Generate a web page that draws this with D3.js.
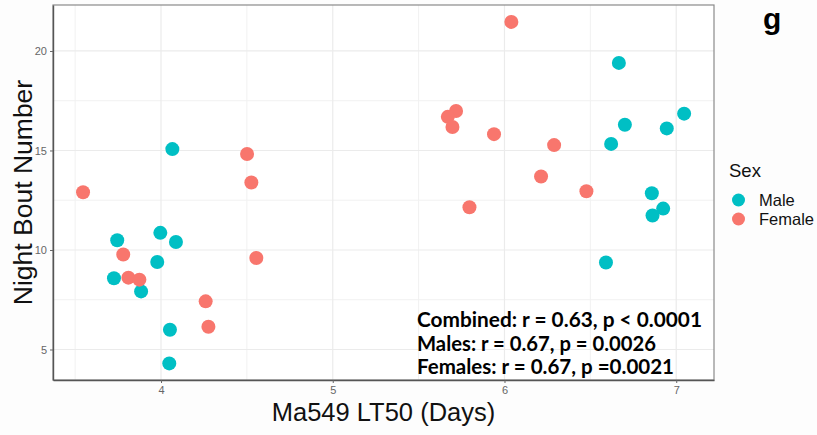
<!DOCTYPE html>
<html>
<head>
<meta charset="utf-8">
<script src="https://cdn.jsdelivr.net/npm/d3@7"></script>
<style>
  html, body { margin: 0; padding: 0; background: #fdfdfd; }
  svg { display: block; }
</style>
</head>
<body>
<svg id="chart" width="817" height="435"></svg>
<script>
// Night bout number vs. Ma549 LT50, by sex
const maleLT50 = [4.066, 3.745, 3.996, 4.087, 3.978, 3.726, 3.884, 4.052, 4.048,
                  6.666, 7.046, 6.701, 6.945, 6.621, 6.858, 6.924, 6.862, 6.591];
const maleBouts = [15.07, 10.49, 10.86, 10.40, 9.40, 8.58, 7.92, 5.99, 4.30,
                   19.40, 16.85, 16.29, 16.11, 15.33, 12.85, 12.08, 11.73, 9.37];
const femaleLT50 = [3.546, 4.501, 4.526, 3.780, 3.810, 3.874, 4.260, 4.276, 4.555,
                    6.040, 5.718, 5.670, 5.697, 5.939, 6.289, 6.213, 6.477, 5.796];
const femaleBouts = [12.90, 14.82, 13.39, 9.77, 8.61, 8.51, 7.42, 6.14, 9.60,
                     21.46, 16.98, 16.69, 16.18, 15.82, 15.27, 13.69, 12.95, 12.15];

const xTicks = [4, 5, 6, 7];
const yTicks = [5, 10, 15, 20];
const xMinor = [3.5, 4.5, 5.5, 6.5];
const yMinor = [7.5, 12.5, 17.5];

const sexes = ["Male", "Female"];
const sexColors = ["#00BFC4", "#F8766D"];

const statLines = [
  "Combined: r = 0.63, p < 0.0001",
  "Males: r = 0.67, p = 0.0026",
  "Females: r = 0.67, p =0.0021"
];

const panel = { left: 53, right: 714, top: 5, bottom: 380 };

const svg = d3.select("#chart");
const x = d3.scaleLinear().domain([3.371, 7.22]).range([panel.left, panel.right]);
const y = d3.scaleLinear().domain([3.467, 22.31]).range([panel.bottom, panel.top]);
const color = d3.scaleOrdinal().domain(sexes).range(sexColors);

// panel background
svg.append("rect")
  .attr("x", panel.left).attr("y", panel.top)
  .attr("width", panel.right - panel.left).attr("height", panel.bottom - panel.top)
  .attr("fill", "#ffffff");

// grid lines
const grid = svg.append("g");
grid.selectAll(".vminor").data(xMinor).join("line")
  .attr("x1", d => x(d)).attr("x2", d => x(d))
  .attr("y1", panel.top).attr("y2", panel.bottom)
  .attr("stroke", "#f1f1f1").attr("stroke-width", 1);
grid.selectAll(".hminor").data(yMinor).join("line")
  .attr("y1", d => y(d)).attr("y2", d => y(d))
  .attr("x1", panel.left).attr("x2", panel.right)
  .attr("stroke", "#f1f1f1").attr("stroke-width", 1);
grid.selectAll(".vmajor").data(xTicks).join("line")
  .attr("x1", d => x(d)).attr("x2", d => x(d))
  .attr("y1", panel.top).attr("y2", panel.bottom)
  .attr("stroke", "#ebebeb").attr("stroke-width", 1.2);
grid.selectAll(".hmajor").data(yTicks).join("line")
  .attr("y1", d => y(d)).attr("y2", d => y(d))
  .attr("x1", panel.left).attr("x2", panel.right)
  .attr("stroke", "#ebebeb").attr("stroke-width", 1.2);

// points
const points = [];
maleLT50.forEach((v, i) => points.push({ x: v, y: maleBouts[i], sex: "Male" }));
femaleLT50.forEach((v, i) => points.push({ x: v, y: femaleBouts[i], sex: "Female" }));
svg.append("g").selectAll("circle").data(points).join("circle")
  .attr("cx", d => x(d.x)).attr("cy", d => y(d.y)).attr("r", 7)
  .attr("fill", d => color(d.sex));

// panel border
svg.append("rect")
  .attr("x", panel.left).attr("y", panel.top)
  .attr("width", panel.right - panel.left).attr("height", panel.bottom - panel.top)
  .attr("fill", "none").attr("stroke", "#8a8a8a").attr("stroke-width", 1.2);

// axes
const xAxis = svg.append("g")
  .attr("transform", `translate(0,${panel.bottom})`)
  .call(d3.axisBottom(x).tickValues(xTicks).tickSize(3).tickSizeOuter(0)
    .tickPadding(3).tickFormat(d3.format("d")));
const yAxis = svg.append("g")
  .attr("transform", `translate(${panel.left},0)`)
  .call(d3.axisLeft(y).tickValues(yTicks).tickSize(3).tickSizeOuter(0)
    .tickPadding(3).tickFormat(d3.format("d")));
[xAxis, yAxis].forEach(a => {
  a.select(".domain").attr("stroke", "#555").attr("stroke-width", 1.4);
  a.selectAll(".tick line").attr("stroke", "#666");
  a.selectAll(".tick text")
    .attr("fill", "#666")
    .attr("font-family", "Liberation Sans, Arial, sans-serif")
    .attr("font-size", 11);
});

// axis titles
svg.append("text")
  .attr("x", (panel.left + panel.right) / 2).attr("y", 421)
  .attr("text-anchor", "middle")
  .attr("font-family", "Liberation Sans, Arial, sans-serif")
  .attr("font-size", 25.5).attr("fill", "#111")
  .text("Ma549 LT50 (Days)");
svg.append("text")
  .attr("transform", `translate(32,${(panel.top + panel.bottom) / 2}) rotate(-90)`)
  .attr("text-anchor", "middle")
  .attr("font-family", "Liberation Sans, Arial, sans-serif")
  .attr("font-size", 26.5).attr("fill", "#111")
  .text("Night Bout Number");

// correlation summary
const statWidths = [285, 239, 257];
svg.append("g").selectAll("text").data(statLines).join("text")
  .attr("x", 417).attr("y", (d, i) => 327 + i * 23.5)
  .attr("font-family", "Lato, 'Open Sans', sans-serif")
  .attr("font-weight", 700).attr("font-size", 20).attr("fill", "#000")
  .attr("textLength", (d, i) => statWidths[i])
  .attr("lengthAdjust", "spacingAndGlyphs")
  .text(d => d);

// panel tag
svg.append("text")
  .attr("x", 763).attr("y", 29)
  .attr("font-family", "Liberation Sans, Arial, sans-serif")
  .attr("font-weight", 700).attr("font-size", 30).attr("fill", "#000")
  .text("g");

// legend
const legend = svg.append("g");
legend.append("text")
  .attr("x", 729).attr("y", 176.5)
  .attr("font-family", "Liberation Sans, Arial, sans-serif")
  .attr("font-size", 18.5).attr("fill", "#111")
  .text("Sex");
const keys = legend.selectAll(".key").data(sexes).join("g")
  .attr("transform", (d, i) => `translate(0,${200 + i * 19})`);
keys.append("circle")
  .attr("cx", 738.5).attr("cy", 0).attr("r", 6.5)
  .attr("fill", d => color(d));
keys.append("text")
  .attr("x", 759).attr("y", 6)
  .attr("font-family", "Liberation Sans, Arial, sans-serif")
  .attr("font-size", 16.5).attr("fill", "#111")
  .text(d => d);
</script>
</body>
</html>
